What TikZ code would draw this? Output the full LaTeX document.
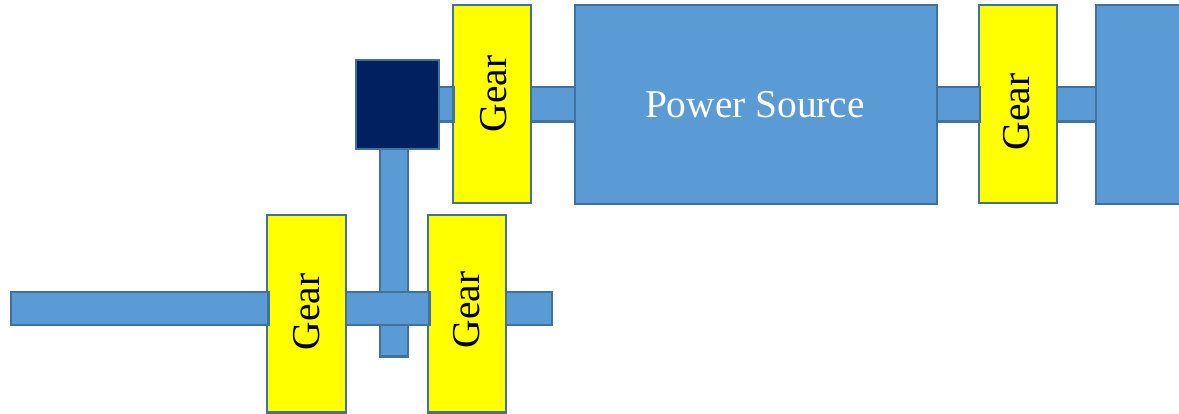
\documentclass[tikz,border=0pt]{standalone}
\usepackage{fontspec}
\setmainfont{Liberation Serif}
\definecolor{shaftblue}{HTML}{5B9BD5}
\definecolor{edgeblue}{HTML}{41719C}
\definecolor{navybox}{HTML}{002060}
\definecolor{gearyellow}{RGB}{255,255,0}
\tikzset{
  part/.style={draw=edgeblue,line width=2.3pt,inner sep=0pt,outer sep=0pt,rectangle},
  blue part/.style={part,fill=shaftblue},
  gear part/.style={part,fill=gearyellow},
  navy part/.style={part,fill=navybox},
  gear text/.style={font=\fontsize{39.5}{39.5}\selectfont,text=black,rotate=90,anchor=base,inner sep=0pt},
  source text/.style={font=\fontsize{39.4}{39.4}\selectfont,text=white,anchor=base,inner sep=0pt}
}
% name, style, x0, y0, x1, y1 (pixel coordinates, y downward)
\newcommand{\partbox}[6]{%
  \pgfmathsetmacro{\pw}{#5-#3}\pgfmathsetmacro{\ph}{#6-#4}%
  \node[#2,minimum width=\pw pt,minimum height=\ph pt] (#1) at ({(#3+#5)/2},{(#4+#6)/2}) {};%
}
\begin{document}
\begin{tikzpicture}[x=1pt,y=-1pt]
\useasboundingbox (0,0) rectangle (1179,414);
\clip (0,0) rectangle (1179,414);
\partbox{vshaft}{blue part}{380}{145}{408}{356.5}
\partbox{gearTopA}{gear part}{453}{5}{531}{203}
\partbox{gearTopB}{gear part}{979}{5}{1057}{203}
\partbox{gearLowA}{gear part}{267}{215}{346}{412.5}
\partbox{gearLowB}{gear part}{428}{215}{506}{412.5}
\partbox{shaftA}{blue part}{438}{87}{453.5}{121.5}
\partbox{shaftB}{blue part}{531}{87}{575}{121.5}
\partbox{shaftC}{blue part}{937}{87}{980}{121.5}
\partbox{shaftD}{blue part}{1057}{87}{1097}{121.5}
\partbox{barA}{blue part}{11}{292}{268.5}{325}
\partbox{barB}{blue part}{346}{292}{429.5}{325}
\partbox{barC}{blue part}{506}{292}{552}{325}
\partbox{source}{blue part}{575}{5}{937}{204}
\partbox{load}{blue part}{1096}{5}{1195}{204}
\partbox{joint}{navy part}{356}{60}{439}{149}
\node[source text] (sourcelabel) at (755,118) {Power Source};
\node[gear text] (gearTopAlabel) at (506.5,94) {Gear};
\node[gear text] (gearTopBlabel) at (1029.5,112) {Gear};
\node[gear text] (gearLowAlabel) at (319.5,312) {Gear};
\node[gear text] (gearLowBlabel) at (479.5,310) {Gear};
\end{tikzpicture}
\end{document}
